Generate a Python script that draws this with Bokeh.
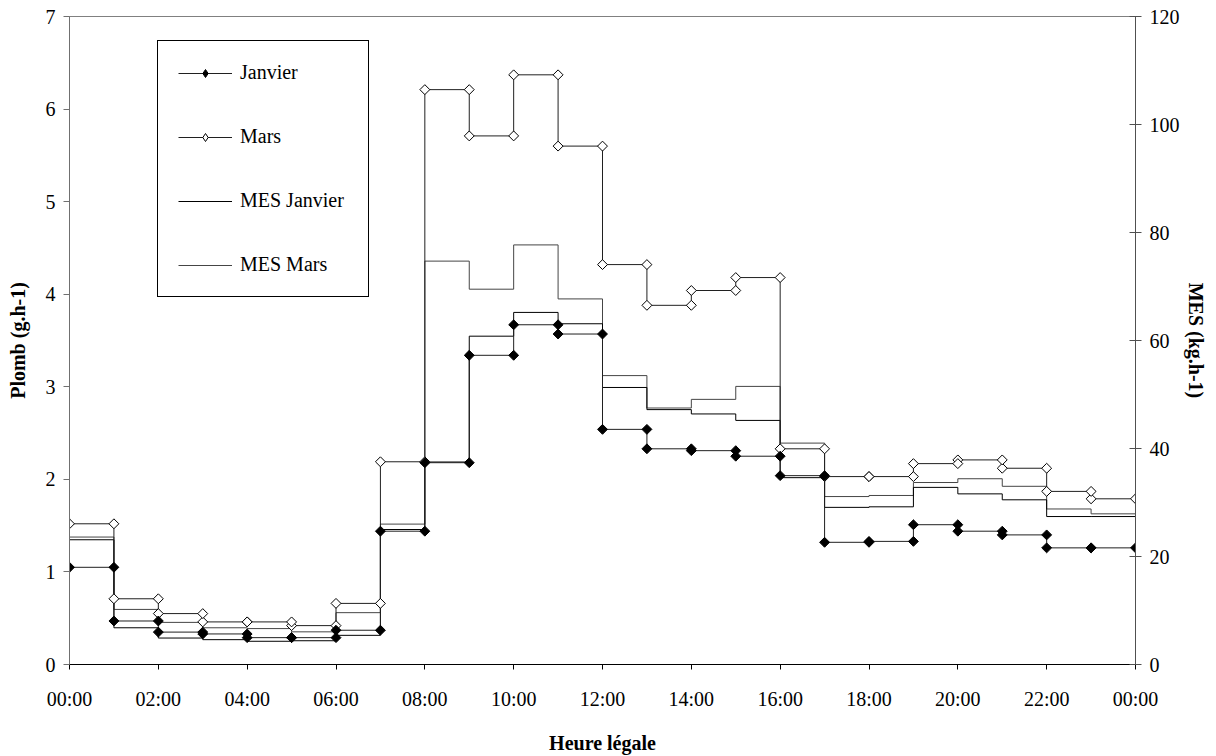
import numpy as np
from bokeh.plotting import figure
from bokeh.models import Range1d, LinearAxis, FixedTicker, Legend, LegendItem
from bokeh.embed import file_html
from bokeh.resources import INLINE

# ---------------- data ----------------
hours = list(range(24))
plomb_janvier = [1.05, 0.47, 0.35, 0.33, 0.29, 0.29, 0.37, 1.44, 2.18, 3.34, 3.67, 3.57,
                 2.54, 2.33, 2.31, 2.25, 2.04, 1.32, 1.33, 1.51, 1.44, 1.40, 1.26, 1.26]
plomb_mars = [1.52, 0.71, 0.55, 0.46, 0.46, 0.42, 0.66, 2.19, 6.21, 5.71, 6.37, 5.60,
              4.32, 3.88, 4.04, 4.18, 2.33, 2.03, 2.03, 2.17, 2.21, 2.12, 1.87, 1.79]
mes_janvier = [23.1, 6.8, 4.9, 4.6, 4.3, 4.4, 5.4, 25.0, 37.5, 60.8, 65.2, 63.1,
               51.3, 47.2, 46.4, 45.2, 34.6, 29.1, 29.2, 32.8, 31.6, 30.5, 27.4, 27.4]
mes_mars = [23.6, 10.2, 7.8, 6.8, 6.65, 6.05, 9.6, 26.0, 74.7, 69.5, 77.7, 67.7,
            53.5, 47.5, 49.1, 51.5, 41.0, 31.1, 31.3, 33.7, 34.4, 33.0, 28.8, 27.9]
x_tick_values = [0, 2, 4, 6, 8, 10, 12, 14, 16, 18, 20, 22, 24]
x_tick_labels = ["00:00", "02:00", "04:00", "06:00", "08:00", "10:00", "12:00",
                 "14:00", "16:00", "18:00", "20:00", "22:00", "00:00"]
left_ticks = [0, 1, 2, 3, 4, 5, 6, 7]
right_ticks = [0, 20, 40, 60, 80, 100, 120]
series_names = ["Janvier", "Mars", "MES Janvier", "MES Mars"]
x_title = "Heure légale"
left_title = "Plomb (g.h-1)"
right_title = "MES (kg.h-1)"

FONT = "Liberation Serif"


def step_xy(vals):
    xs, ys = [], []
    for h, v in zip(hours, vals):
        xs += [h, h + 1]
        ys += [v, v]
    return xs, ys


def marker_xy(vals):
    xs = [h for h in hours] + [h + 1 for h in hours]
    ys = list(vals) + list(vals)
    return xs, ys


W, H = 1216, 756
BL, BR, BT, BB = 69, 81, 16, 91

p = figure(width=W, height=H, x_range=Range1d(0, 24), y_range=Range1d(0, 7),
           output_backend="svg", toolbar_location=None,
           min_border_left=BL, min_border_right=BR, min_border_top=BT, min_border_bottom=BB)
p.xgrid.visible = False
p.ygrid.visible = False
p.outline_line_color = "#808080"
p.background_fill_color = "white"
p.border_fill_color = "white"

p.extra_y_ranges = {"mes": Range1d(0, 120)}

# MES lines (right axis)
xs, ys = step_xy(mes_mars)
r_mes_mars = p.line(xs, ys, y_range_name="mes", line_color="#454545", line_width=1)
xs, ys = step_xy(mes_janvier)
r_mes_jan = p.line(xs, ys, y_range_name="mes", line_color="black", line_width=1)

# Plomb lines (left axis)
xs, ys = step_xy(plomb_mars)
r_mars_l = p.line(xs, ys, line_color="#202020", line_width=1)
xs, ys = step_xy(plomb_janvier)
r_jan_l = p.line(xs, ys, line_color="#202020", line_width=1)

mx, my = marker_xy(plomb_mars)
p.scatter(mx, my, marker="square", angle=np.pi / 4, size=7,
          fill_color="white", line_color="black", line_width=1)
mx, my = marker_xy(plomb_janvier)
p.scatter(mx, my, marker="square", angle=np.pi / 4, size=7,
          fill_color="black", line_color="black", line_width=1)

# legend-only marker glyphs (no data points)
lg_jan = p.scatter([np.nan], [np.nan], marker="diamond", size=12,
                   fill_color="black", line_color="black", line_width=1)
lg_mars = p.scatter([np.nan], [np.nan], marker="diamond", size=12,
                    fill_color="white", line_color="black", line_width=1)

# Axes
xa = p.xaxis[0]
xa.ticker = FixedTicker(ticks=x_tick_values)
xa.major_label_overrides = {v: l for v, l in zip(x_tick_values, x_tick_labels)}
xa.axis_label = x_title
xa.minor_tick_line_color = None
xa.major_tick_in = 0
xa.major_tick_out = 5
xa.major_label_standoff = 18
xa.axis_label_standoff = 19
xa.axis_line_color = "black"
xa.major_tick_line_color = "black"

ya = p.yaxis[0]
ya.ticker = FixedTicker(ticks=left_ticks)
ya.axis_label = left_title
ya.minor_tick_line_color = None
ya.major_tick_in = 0
ya.major_tick_out = 6
ya.major_label_standoff = 8
ya.axis_label_standoff = 14
ya.axis_line_color = "#707070"
ya.major_tick_line_color = "#707070"

ra = LinearAxis(y_range_name="mes", ticker=FixedTicker(ticks=right_ticks),
                axis_label=right_title)
ra.minor_tick_line_color = None
ra.major_tick_in = 6
ra.major_tick_out = 6
ra.major_label_standoff = 8
ra.axis_label_standoff = 2
ra.axis_line_color = "#505050"
ra.major_tick_line_color = "#505050"
p.add_layout(ra, "right")

for ax in [xa, ya, ra]:
    ax.major_label_text_font = FONT
    ax.major_label_text_font_size = "20px"
    ax.major_label_text_color = "black"
    ax.axis_label_text_font = FONT
    ax.axis_label_text_font_size = "20px"
    ax.axis_label_text_font_style = "bold"
    ax.axis_label_text_color = "black"

legend = Legend(items=[
    LegendItem(label=series_names[0], renderers=[r_jan_l, lg_jan]),
    LegendItem(label=series_names[1], renderers=[r_mars_l, lg_mars]),
    LegendItem(label=series_names[2], renderers=[r_mes_jan]),
    LegendItem(label=series_names[3], renderers=[r_mes_mars]),
], location=(88, 367))
legend.border_line_color = "black"
legend.border_line_width = 1
legend.border_line_alpha = 1
legend.background_fill_color = "white"
legend.background_fill_alpha = 1
legend.padding = 20
legend.spacing = 41
legend.margin = 0
legend.label_height = 20
legend.label_width = 108
legend.glyph_height = 20
legend.glyph_width = 54
legend.label_standoff = 8
legend.label_text_font = FONT
legend.label_text_font_size = "20px"
legend.label_text_color = "black"
p.add_layout(legend, "center")

open("out.html", "w").write(file_html(p, INLINE))
